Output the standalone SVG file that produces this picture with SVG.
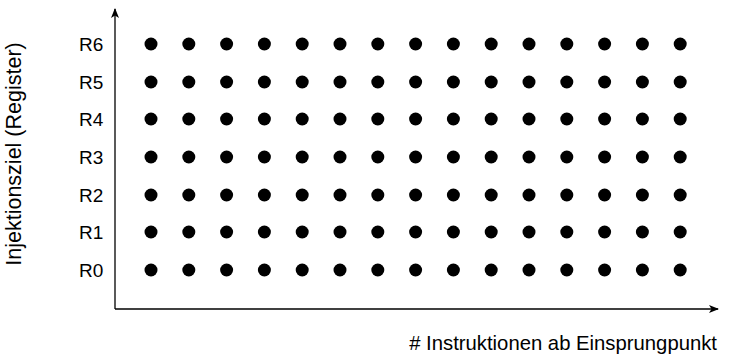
<svg xmlns="http://www.w3.org/2000/svg" width="731" height="356" viewBox="0 0 731 356">
<style>
text{font-family:"Liberation Sans",Arial,sans-serif;font-size:19px;fill:#000}
.big{font-size:20.3px}
.ylab{font-size:21.5px}
.ax{stroke:#000;stroke-width:1.3;fill:none}
.d{fill:#000}
</style>
<defs>
<marker id="ah" viewBox="0 0 10 10" refX="9" refY="5" markerWidth="10" markerHeight="10" markerUnits="userSpaceOnUse" orient="auto">
<path d="M0,1 L10,5 L0,9 L2.5,5 Z" fill="#000"/>
</marker>
<g id="dotrow">
<circle class="d" cx="151" cy="0" r="6.5"/><circle class="d" cx="188.8" cy="0" r="6.5"/><circle class="d" cx="226.6" cy="0" r="6.5"/><circle class="d" cx="264.4" cy="0" r="6.5"/><circle class="d" cx="302.2" cy="0" r="6.5"/><circle class="d" cx="340" cy="0" r="6.5"/><circle class="d" cx="377.8" cy="0" r="6.5"/><circle class="d" cx="415.6" cy="0" r="6.5"/><circle class="d" cx="453.4" cy="0" r="6.5"/><circle class="d" cx="491.2" cy="0" r="6.5"/><circle class="d" cx="529" cy="0" r="6.5"/><circle class="d" cx="566.8" cy="0" r="6.5"/><circle class="d" cx="604.6" cy="0" r="6.5"/><circle class="d" cx="642.4" cy="0" r="6.5"/><circle class="d" cx="680.2" cy="0" r="6.5"/>
</g>
</defs>
<g id="connectors">
<path class="ax" d="M115,309 L115,9" marker-end="url(#ah)"/>
<path class="ax" d="M115,309 L718,309" marker-end="url(#ah)"/>
</g>
<g id="labels">
<text x="79" y="51">R6</text>
<text x="79" y="89">R5</text>
<text x="79" y="126">R4</text>
<text x="79" y="164">R3</text>
<text x="79" y="202">R2</text>
<text x="79" y="239">R1</text>
<text x="79" y="277">R0</text>
<text class="big" x="717" y="350" text-anchor="end"># Instruktionen ab Einsprungpunkt</text>
<text class="ylab" transform="translate(21,154) rotate(-90)" text-anchor="middle">Injektionsziel (Register)</text>
</g>
<g id="dots">
<use href="#dotrow" y="44"/>
<use href="#dotrow" y="82"/>
<use href="#dotrow" y="119"/>
<use href="#dotrow" y="157"/>
<use href="#dotrow" y="195"/>
<use href="#dotrow" y="232"/>
<use href="#dotrow" y="270"/>
</g>
</svg>
